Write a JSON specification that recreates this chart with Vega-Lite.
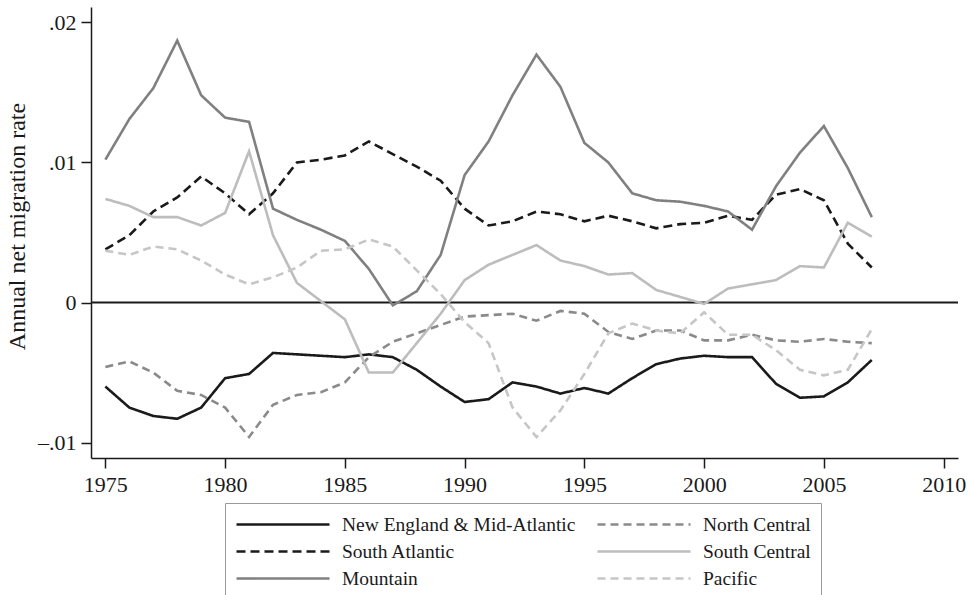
{
  "$schema": "https://vega.github.io/schema/vega-lite/v6.json",
  "width": 867,
  "height": 451,
  "autosize": {"type": "none"},
  "padding": {"left": 91, "top": 7, "right": 12, "bottom": 137},
  "background": "white",
  "config": {
    "view": {"stroke": null},
    "font": "Liberation Serif",
    "axis": {
      "grid": false,
      "domainColor": "#1a1a1a",
      "domainWidth": 1.5,
      "tickColor": "#1a1a1a",
      "tickWidth": 1.5,
      "tickSize": 10,
      "labelFont": "Liberation Serif",
      "labelFontSize": 22,
      "labelColor": "#1a1a1a",
      "titleFont": "Liberation Serif",
      "titleFontSize": 24,
      "titleFontWeight": "normal",
      "titleColor": "#1a1a1a"
    }
  },
  "datasets": {
    "rates": [
      {"year":1975,"region":"New England & Mid-Atlantic","rate":-0.0060},
      {"year":1976,"region":"New England & Mid-Atlantic","rate":-0.0075},
      {"year":1977,"region":"New England & Mid-Atlantic","rate":-0.0081},
      {"year":1978,"region":"New England & Mid-Atlantic","rate":-0.0083},
      {"year":1979,"region":"New England & Mid-Atlantic","rate":-0.0075},
      {"year":1980,"region":"New England & Mid-Atlantic","rate":-0.0054},
      {"year":1981,"region":"New England & Mid-Atlantic","rate":-0.0051},
      {"year":1982,"region":"New England & Mid-Atlantic","rate":-0.0036},
      {"year":1983,"region":"New England & Mid-Atlantic","rate":-0.0037},
      {"year":1984,"region":"New England & Mid-Atlantic","rate":-0.0038},
      {"year":1985,"region":"New England & Mid-Atlantic","rate":-0.0039},
      {"year":1986,"region":"New England & Mid-Atlantic","rate":-0.0037},
      {"year":1987,"region":"New England & Mid-Atlantic","rate":-0.0039},
      {"year":1988,"region":"New England & Mid-Atlantic","rate":-0.0048},
      {"year":1989,"region":"New England & Mid-Atlantic","rate":-0.0060},
      {"year":1990,"region":"New England & Mid-Atlantic","rate":-0.0071},
      {"year":1991,"region":"New England & Mid-Atlantic","rate":-0.0069},
      {"year":1992,"region":"New England & Mid-Atlantic","rate":-0.0057},
      {"year":1993,"region":"New England & Mid-Atlantic","rate":-0.0060},
      {"year":1994,"region":"New England & Mid-Atlantic","rate":-0.0065},
      {"year":1995,"region":"New England & Mid-Atlantic","rate":-0.0061},
      {"year":1996,"region":"New England & Mid-Atlantic","rate":-0.0065},
      {"year":1997,"region":"New England & Mid-Atlantic","rate":-0.0054},
      {"year":1998,"region":"New England & Mid-Atlantic","rate":-0.0044},
      {"year":1999,"region":"New England & Mid-Atlantic","rate":-0.0040},
      {"year":2000,"region":"New England & Mid-Atlantic","rate":-0.0038},
      {"year":2001,"region":"New England & Mid-Atlantic","rate":-0.0039},
      {"year":2002,"region":"New England & Mid-Atlantic","rate":-0.0039},
      {"year":2003,"region":"New England & Mid-Atlantic","rate":-0.0058},
      {"year":2004,"region":"New England & Mid-Atlantic","rate":-0.0068},
      {"year":2005,"region":"New England & Mid-Atlantic","rate":-0.0067},
      {"year":2006,"region":"New England & Mid-Atlantic","rate":-0.0057},
      {"year":2007,"region":"New England & Mid-Atlantic","rate":-0.0041},
      {"year":1975,"region":"South Atlantic","rate":0.0038},
      {"year":1976,"region":"South Atlantic","rate":0.0048},
      {"year":1977,"region":"South Atlantic","rate":0.0065},
      {"year":1978,"region":"South Atlantic","rate":0.0075},
      {"year":1979,"region":"South Atlantic","rate":0.0090},
      {"year":1980,"region":"South Atlantic","rate":0.0078},
      {"year":1981,"region":"South Atlantic","rate":0.0063},
      {"year":1982,"region":"South Atlantic","rate":0.0078},
      {"year":1983,"region":"South Atlantic","rate":0.0100},
      {"year":1984,"region":"South Atlantic","rate":0.0102},
      {"year":1985,"region":"South Atlantic","rate":0.0105},
      {"year":1986,"region":"South Atlantic","rate":0.0115},
      {"year":1987,"region":"South Atlantic","rate":0.0106},
      {"year":1988,"region":"South Atlantic","rate":0.0097},
      {"year":1989,"region":"South Atlantic","rate":0.0087},
      {"year":1990,"region":"South Atlantic","rate":0.0067},
      {"year":1991,"region":"South Atlantic","rate":0.0055},
      {"year":1992,"region":"South Atlantic","rate":0.0058},
      {"year":1993,"region":"South Atlantic","rate":0.0065},
      {"year":1994,"region":"South Atlantic","rate":0.0063},
      {"year":1995,"region":"South Atlantic","rate":0.0058},
      {"year":1996,"region":"South Atlantic","rate":0.0062},
      {"year":1997,"region":"South Atlantic","rate":0.0058},
      {"year":1998,"region":"South Atlantic","rate":0.0053},
      {"year":1999,"region":"South Atlantic","rate":0.0056},
      {"year":2000,"region":"South Atlantic","rate":0.0057},
      {"year":2001,"region":"South Atlantic","rate":0.0062},
      {"year":2002,"region":"South Atlantic","rate":0.0059},
      {"year":2003,"region":"South Atlantic","rate":0.0077},
      {"year":2004,"region":"South Atlantic","rate":0.0081},
      {"year":2005,"region":"South Atlantic","rate":0.0073},
      {"year":2006,"region":"South Atlantic","rate":0.0042},
      {"year":2007,"region":"South Atlantic","rate":0.0025},
      {"year":1975,"region":"Mountain","rate":0.0102},
      {"year":1976,"region":"Mountain","rate":0.0131},
      {"year":1977,"region":"Mountain","rate":0.0153},
      {"year":1978,"region":"Mountain","rate":0.0187},
      {"year":1979,"region":"Mountain","rate":0.0148},
      {"year":1980,"region":"Mountain","rate":0.0132},
      {"year":1981,"region":"Mountain","rate":0.0129},
      {"year":1982,"region":"Mountain","rate":0.0067},
      {"year":1983,"region":"Mountain","rate":0.0059},
      {"year":1984,"region":"Mountain","rate":0.0052},
      {"year":1985,"region":"Mountain","rate":0.0044},
      {"year":1986,"region":"Mountain","rate":0.0024},
      {"year":1987,"region":"Mountain","rate":-0.0002},
      {"year":1988,"region":"Mountain","rate":0.0008},
      {"year":1989,"region":"Mountain","rate":0.0034},
      {"year":1990,"region":"Mountain","rate":0.0091},
      {"year":1991,"region":"Mountain","rate":0.0115},
      {"year":1992,"region":"Mountain","rate":0.0148},
      {"year":1993,"region":"Mountain","rate":0.0177},
      {"year":1994,"region":"Mountain","rate":0.0154},
      {"year":1995,"region":"Mountain","rate":0.0114},
      {"year":1996,"region":"Mountain","rate":0.0100},
      {"year":1997,"region":"Mountain","rate":0.0078},
      {"year":1998,"region":"Mountain","rate":0.0073},
      {"year":1999,"region":"Mountain","rate":0.0072},
      {"year":2000,"region":"Mountain","rate":0.0069},
      {"year":2001,"region":"Mountain","rate":0.0065},
      {"year":2002,"region":"Mountain","rate":0.0052},
      {"year":2003,"region":"Mountain","rate":0.0083},
      {"year":2004,"region":"Mountain","rate":0.0107},
      {"year":2005,"region":"Mountain","rate":0.0126},
      {"year":2006,"region":"Mountain","rate":0.0096},
      {"year":2007,"region":"Mountain","rate":0.0061},
      {"year":1975,"region":"North Central","rate":-0.0046},
      {"year":1976,"region":"North Central","rate":-0.0042},
      {"year":1977,"region":"North Central","rate":-0.0050},
      {"year":1978,"region":"North Central","rate":-0.0063},
      {"year":1979,"region":"North Central","rate":-0.0066},
      {"year":1980,"region":"North Central","rate":-0.0075},
      {"year":1981,"region":"North Central","rate":-0.0096},
      {"year":1982,"region":"North Central","rate":-0.0073},
      {"year":1983,"region":"North Central","rate":-0.0066},
      {"year":1984,"region":"North Central","rate":-0.0064},
      {"year":1985,"region":"North Central","rate":-0.0057},
      {"year":1986,"region":"North Central","rate":-0.0039},
      {"year":1987,"region":"North Central","rate":-0.0028},
      {"year":1988,"region":"North Central","rate":-0.0022},
      {"year":1989,"region":"North Central","rate":-0.0016},
      {"year":1990,"region":"North Central","rate":-0.0010},
      {"year":1991,"region":"North Central","rate":-0.0009},
      {"year":1992,"region":"North Central","rate":-0.0008},
      {"year":1993,"region":"North Central","rate":-0.0013},
      {"year":1994,"region":"North Central","rate":-0.0006},
      {"year":1995,"region":"North Central","rate":-0.0008},
      {"year":1996,"region":"North Central","rate":-0.0021},
      {"year":1997,"region":"North Central","rate":-0.0026},
      {"year":1998,"region":"North Central","rate":-0.0020},
      {"year":1999,"region":"North Central","rate":-0.0020},
      {"year":2000,"region":"North Central","rate":-0.0027},
      {"year":2001,"region":"North Central","rate":-0.0027},
      {"year":2002,"region":"North Central","rate":-0.0023},
      {"year":2003,"region":"North Central","rate":-0.0027},
      {"year":2004,"region":"North Central","rate":-0.0028},
      {"year":2005,"region":"North Central","rate":-0.0026},
      {"year":2006,"region":"North Central","rate":-0.0028},
      {"year":2007,"region":"North Central","rate":-0.0029},
      {"year":1975,"region":"South Central","rate":0.0074},
      {"year":1976,"region":"South Central","rate":0.0069},
      {"year":1977,"region":"South Central","rate":0.0061},
      {"year":1978,"region":"South Central","rate":0.0061},
      {"year":1979,"region":"South Central","rate":0.0055},
      {"year":1980,"region":"South Central","rate":0.0064},
      {"year":1981,"region":"South Central","rate":0.0108},
      {"year":1982,"region":"South Central","rate":0.0048},
      {"year":1983,"region":"South Central","rate":0.0014},
      {"year":1984,"region":"South Central","rate":0.0001},
      {"year":1985,"region":"South Central","rate":-0.0012},
      {"year":1986,"region":"South Central","rate":-0.0050},
      {"year":1987,"region":"South Central","rate":-0.0050},
      {"year":1988,"region":"South Central","rate":-0.0029},
      {"year":1989,"region":"South Central","rate":-0.0008},
      {"year":1990,"region":"South Central","rate":0.0016},
      {"year":1991,"region":"South Central","rate":0.0027},
      {"year":1992,"region":"South Central","rate":0.0034},
      {"year":1993,"region":"South Central","rate":0.0041},
      {"year":1994,"region":"South Central","rate":0.0030},
      {"year":1995,"region":"South Central","rate":0.0026},
      {"year":1996,"region":"South Central","rate":0.0020},
      {"year":1997,"region":"South Central","rate":0.0021},
      {"year":1998,"region":"South Central","rate":0.0009},
      {"year":1999,"region":"South Central","rate":0.0004},
      {"year":2000,"region":"South Central","rate":-0.0001},
      {"year":2001,"region":"South Central","rate":0.0010},
      {"year":2002,"region":"South Central","rate":0.0013},
      {"year":2003,"region":"South Central","rate":0.0016},
      {"year":2004,"region":"South Central","rate":0.0026},
      {"year":2005,"region":"South Central","rate":0.0025},
      {"year":2006,"region":"South Central","rate":0.0057},
      {"year":2007,"region":"South Central","rate":0.0047},
      {"year":1975,"region":"Pacific","rate":0.0037},
      {"year":1976,"region":"Pacific","rate":0.0034},
      {"year":1977,"region":"Pacific","rate":0.0040},
      {"year":1978,"region":"Pacific","rate":0.0038},
      {"year":1979,"region":"Pacific","rate":0.0030},
      {"year":1980,"region":"Pacific","rate":0.0020},
      {"year":1981,"region":"Pacific","rate":0.0013},
      {"year":1982,"region":"Pacific","rate":0.0018},
      {"year":1983,"region":"Pacific","rate":0.0025},
      {"year":1984,"region":"Pacific","rate":0.0037},
      {"year":1985,"region":"Pacific","rate":0.0038},
      {"year":1986,"region":"Pacific","rate":0.0045},
      {"year":1987,"region":"Pacific","rate":0.0040},
      {"year":1988,"region":"Pacific","rate":0.0023},
      {"year":1989,"region":"Pacific","rate":0.0006},
      {"year":1990,"region":"Pacific","rate":-0.0014},
      {"year":1991,"region":"Pacific","rate":-0.0029},
      {"year":1992,"region":"Pacific","rate":-0.0075},
      {"year":1993,"region":"Pacific","rate":-0.0096},
      {"year":1994,"region":"Pacific","rate":-0.0077},
      {"year":1995,"region":"Pacific","rate":-0.0051},
      {"year":1996,"region":"Pacific","rate":-0.0022},
      {"year":1997,"region":"Pacific","rate":-0.0015},
      {"year":1998,"region":"Pacific","rate":-0.0020},
      {"year":1999,"region":"Pacific","rate":-0.0022},
      {"year":2000,"region":"Pacific","rate":-0.0007},
      {"year":2001,"region":"Pacific","rate":-0.0023},
      {"year":2002,"region":"Pacific","rate":-0.0023},
      {"year":2003,"region":"Pacific","rate":-0.0034},
      {"year":2004,"region":"Pacific","rate":-0.0048},
      {"year":2005,"region":"Pacific","rate":-0.0052},
      {"year":2006,"region":"Pacific","rate":-0.0048},
      {"year":2007,"region":"Pacific","rate":-0.0019}
    ]
  },
  "layer": [
    {
      "data": {"values": [{"zero": 0}]},
      "mark": {"type": "rule", "color": "#1a1a1a", "strokeWidth": 2},
      "encoding": {"y": {"field": "zero", "type": "quantitative"}}
    },
    {
      "data": {"name": "rates"},
      "mark": {"type": "line", "strokeWidth": 2.6, "strokeCap": "butt", "strokeJoin": "miter"},
      "encoding": {
        "x": {
          "field": "year", "type": "quantitative",
          "scale": {"domain": [1974.4, 2010.6], "nice": false, "zero": false},
          "axis": {"values": [1975,1980,1985,1990,1995,2000,2005,2010], "format": "d", "title": null, "labelPadding": 6}
        },
        "y": {
          "field": "rate", "type": "quantitative",
          "scale": {"domain": [-0.0111, 0.0211], "nice": false, "zero": false},
          "axis": {
            "values": [-0.01, 0, 0.01, 0.02],
            "labelExpr": "datum.value == 0 ? '0' : (datum.value < 0 ? '–' : '') + '.' + format(abs(datum.value) * 100, '02d')",
            "title": "Annual net migration rate",
            "labelPadding": 5,
            "titlePadding": 8,
            "titleY": 219
          }
        },
        "color": {
          "field": "region", "type": "nominal",
          "scale": {
            "domain": ["New England & Mid-Atlantic","South Atlantic","Mountain","North Central","South Central","Pacific"],
            "range": ["#1a1a1a","#1a1a1a","#808080","#8a8a8a","#bdbdbd","#c6c6c6"]
          },
          "legend": {
            "title": null, "orient": "none", "legendX": 134, "legendY": 496,
            "columns": 2, "symbolType": "M-1,0H8.3", "symbolSize": 400, "symbolStrokeWidth": 2.6,
            "labelFont": "Liberation Serif", "labelFontSize": 19.5, "labelColor": "#1a1a1a",
            "labelLimit": 400, "labelOffset": 84, "rowPadding": 6, "columnPadding": 16,
            "strokeColor": "#999999", "padding": 10, "fillColor": "white"
          }
        },
        "strokeDash": {
          "field": "region", "type": "nominal",
          "scale": {
            "domain": ["New England & Mid-Atlantic","South Atlantic","Mountain","North Central","South Central","Pacific"],
            "range": [[1,0],[9,5],[1,0],[8,5],[1,0],[8,5]]
          },
          "legend": {
            "title": null, "orient": "none", "legendX": 134, "legendY": 496,
            "columns": 2, "symbolType": "M-1,0H8.3", "symbolSize": 400, "symbolStrokeWidth": 2.6,
            "labelFont": "Liberation Serif", "labelFontSize": 19.5, "labelColor": "#1a1a1a",
            "labelLimit": 400, "labelOffset": 84, "rowPadding": 6, "columnPadding": 16,
            "strokeColor": "#999999", "padding": 10, "fillColor": "white"
          }
        }
      }
    }
  ]
}
